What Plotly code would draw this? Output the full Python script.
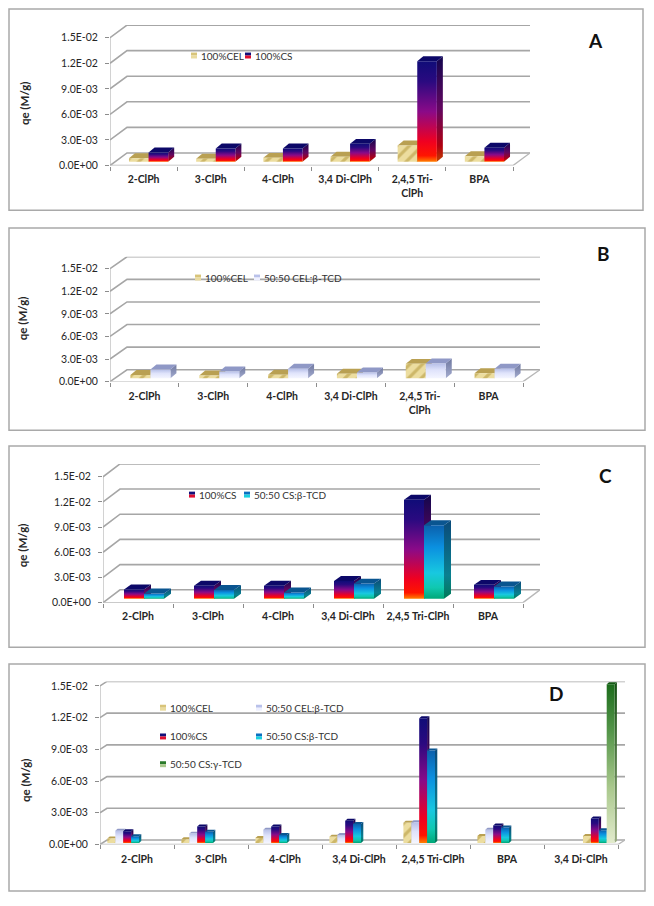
import plotly.graph_objects as go

W, H = 654, 906
FONT = "Lato"
TEXT = "#262626"

# ---------- data ----------
cats_six = ["2-ClPh", "3-ClPh", "4-ClPh", "3,4 Di-ClPh", "2,4,5 Tri-ClPh", "BPA"]
cats_a = ["2-ClPh", "3-ClPh", "4-ClPh", "3,4 Di-ClPh", "2,4,5 Tri-<br>ClPh", "BPA"]
cats_d = cats_six + ["3,4 Di-ClPh"]
y_ticks = [0, 0.003, 0.006, 0.009, 0.012, 0.015]
y_labels = ["0.0E+00", "3.0E-03", "6.0E-03", "9.0E-03", "1.2E-02", "1.5E-02"]

cel = [4.2e-4, 3.5e-4, 4.6e-4, 5.8e-4, 1.9e-3, 6.5e-4]
cel_btcd = [1.15e-3, 8.8e-4, 1.25e-3, 7.5e-4, 1.95e-3, 1.25e-3]
cs = [1.1e-3, 1.55e-3, 1.55e-3, 2.1e-3, 1.18e-2, 1.65e-3]
cs_btcd = [6.2e-4, 1.05e-3, 7.5e-4, 1.8e-3, 8.75e-3, 1.45e-3]

# panel D has a seventh category whose bars sit in later slots of the cluster
d_cel = cel + [None]
d_cel_btcd = cel_btcd + [None]
d_cs = cs + [None]
d_cs_btcd = cs_btcd + [None]
d2_cel = [None] * 6 + [6.5e-4]
d2_cs = [None] * 6 + [2.3e-3]
d2_cs_btcd = [None] * 6 + [1.2e-3]
d2_cs_gtcd = [None] * 6 + [1.5e-2]

# ---------- styles ----------
STYLES = {
    "cel": dict(pattern=True, top="#b9a052", side="#a08a45", swatch=["#d8c47a", "#eadb9e"]),
    "cb": dict(scale=[[0, "#f4f5ff"], [0.55, "#dfe3fb"], [1, "#b6bfe8"]], top="#8f98c6",
               side=[[0, "#a3abcf"], [1, "#6f789f"]], swatch=["#b9c1ea", "#eef0ff"]),
    "cs": dict(scale=[[0, "#ff7f00"], [0.06, "#ff1500"], [0.2, "#f00020"], [0.5, "#8a0a88"],
                      [0.8, "#2a0a80"], [1, "#100c78"]], top="#0c0868",
               side=[[0, "#c04000"], [0.15, "#b00010"], [0.5, "#620660"], [1, "#12064e"]],
               swatch=["#12107a", "#e01030"]),
    "sb": dict(scale=[[0, "#00a878"], [0.15, "#10c8b0"], [0.35, "#18c8e0"], [0.7, "#0b90e0"],
                      [1, "#0b60ac"]], top="#0a5590",
               side=[[0, "#007a58"], [0.3, "#0a8090"], [1, "#0a4a7a"]], swatch=["#0b70c0", "#18d0e0"]),
    "sg": dict(scale=[[0, "#e2ebcc"], [0.35, "#a9c88c"], [0.7, "#55964a"], [1, "#1c6c1c"]],
               top="#135713", side=[[0, "#9aac80"], [1, "#124e12"]], swatch=["#2a7a2a", "#a9c88c"]),
}

PANELS = [
    dict(name="A", xa="x", ya="y", cats=cats_a, left=110, right=513, y0=165, ytop=36, dx=17, dy=12.7,
         fx=5, fy=3.8, bw=19.6, bdx=6, bdy=5,
         series=[("cel", cel, 0), ("cs", cs, 1)], nslot=2, start=-19.6,
         frame=(9, 7, 643, 210), letter=(595, 39), ytitle=(24, 102), laby=179,
         legend=[("cel", "100%CEL", 191, 54), ("cs", "100%CS", 245, 54)]),
    dict(name="B", xa="x2", ya="y2", cats=cats_a, left=110, right=523, y0=383, ytop=269, dx=17, dy=12,
         fx=6, fy=3.5, bw=20, bdx=6, bdy=5,
         series=[("cel", cel, 0), ("cb", cel_btcd, 1)], nslot=2, start=-20,
         frame=(9, 228, 645, 432), letter=(603, 254), ytitle=(22, 319), laby=398,
         legend=[("cel", "100%CEL", 195, 278), ("cb", "50:50 CEL:β-TCD", 254, 278)]),
    dict(name="C", xa="x3", ya="y3", cats=cats_six, left=103, right=523, y0=606, ytop=479, dx=17, dy=13,
         fx=6, fy=4, bw=20, bdx=7, bdy=5,
         series=[("cs", cs, 0), ("sb", cs_btcd, 1)], nslot=2, start=-20,
         frame=(9, 448, 645, 651), letter=(605, 478), ytitle=(22, 548), laby=620.5,
         legend=[("cs", "100%CS", 189, 497), ("sb", "50:50 CS:β-TCD", 244, 497)]),
    dict(name="D", xa="x4", ya="y4", cats=cats_d, left=100, right=618, y0=850, ytop=690, dx=7, dy=4.5,
         fx=2, fy=1.6, bw=7.9, bdx=2.3, bdy=2,
         series=[("cel", d_cel, 0), ("cb", d_cel_btcd, 1), ("cs", d_cs, 2), ("sb", d_cs_btcd, 3),
                 ("cel", d2_cel, 4), ("cs", d2_cs, 5), ("sb", d2_cs_btcd, 6), ("sg", d2_cs_gtcd, 7)],
         nslot=8, start=-31.6,
         frame=(9, 668, 645, 897), letter=(556, 698), ytitle=(25, 785), laby=865,
         legend=[("cel", "100%CEL", 160, 712), ("cb", "50:50 CEL:β-TCD", 256, 712),
                 ("cs", "100%CS", 160, 741), ("sb", "50:50 CS:β-TCD", 256, 741),
                 ("sg", "50:50 CS:γ-TCD", 160, 769)]),
]

fig = go.Figure()
shapes, annotations = [], []


def px(x):
    return x / W


def py(y):
    return 1 - y / H


def poly(p, xs, ys, **kw):
    fig.add_trace(go.Scatter(x=xs + xs[:1], y=ys + ys[:1], xaxis=p["xa"], yaxis=p["ya"], mode="lines",
                             line=dict(width=0), fill="toself", hoverinfo="skip", showlegend=False,
                             cliponaxis=False, **kw))


def line(p, xs, ys, color, width):
    fig.add_trace(go.Scatter(x=xs, y=ys, xaxis=p["xa"], yaxis=p["ya"], mode="lines",
                             line=dict(color=color, width=width), hoverinfo="skip", showlegend=False,
                             cliponaxis=False))


layout_axes = {}
for idx, p in enumerate(PANELS):
    n = len(p["cats"])
    catw = (p["right"] - p["left"]) / n
    vscale = 0.015 / (p["y0"] - p["ytop"])
    ddx, ddy = p["dx"] / catw, p["dy"] * vscale
    xmin, xmax = -0.5, n - 0.5
    suffix = "" if idx == 0 else str(idx + 1)

    layout_axes["xaxis" + suffix] = dict(
        domain=[px(p["left"]), px(p["right"] + p["dx"])], range=[xmin, xmax + ddx], anchor="y" + suffix,
        tickmode="array", tickvals=list(range(n)), ticktext=p["cats"], ticklen=0, showgrid=False,
        zeroline=False, showline=False, ticklabelstandoff=int(round(max(p["laby"] - p["y0"] - 8, 0))),
        tickfont=dict(family=FONT, size=10.5, color=TEXT, weight="bold"), tickangle=0,
        minor=dict(tickmode="array", tickvals=[xmin + i for i in range(n + 1)], ticks="outside",
                   ticklen=4, tickcolor="#8c8c8c", tickwidth=1, showgrid=False))
    layout_axes["yaxis" + suffix] = dict(
        domain=[py(p["y0"]), py(p["ytop"] - p["dy"])], range=[0, 0.015 + ddy], anchor="x" + suffix,
        tickmode="array", tickvals=y_ticks, ticktext=y_labels, ticks="outside", ticklen=4,
        tickcolor="#8c8c8c", tickwidth=1, showgrid=False, zeroline=False, showline=False,
        ticklabelstandoff=5, tickfont=dict(family=FONT, size=10.5, color=TEXT))

    # walls and floor
    gx, gy = [], []
    for v in y_ticks:
        gx += [xmin, xmin + ddx, xmax + ddx, None]
        gy += [v, v + ddy, v + ddy, None]
    line(p, gx, gy, "#a6a6a6", 1.6)
    line(p, [xmin, xmin], [0, 0.015], "#a6a6a6", 1)
    line(p, [xmin, xmax, xmax + ddx], [0, 0, ddy], "#b8b8b8", 1.4)

    # bars, left to right so that neighbours overlap correctly
    bw = p["bw"] / catw
    start = p["start"] / catw
    fx, fy = p["fx"] / catw, p["fy"] * vscale
    bdx, bdy = p["bdx"] / catw, p["bdy"] * vscale
    for c in range(n):
        for key, values, slot in p["series"]:
            v = values[c]
            if v is None:
                continue
            st = STYLES[key]
            x1 = c + start + fx + slot * bw
            x2 = x1 + bw
            b, t = fy, fy + v
            side = dict(fillcolor=st["side"]) if isinstance(st["side"], str) else dict(
                fillgradient=dict(type="vertical", colorscale=st["side"]))
            poly(p, [x2, x2 + bdx, x2 + bdx, x2], [b, b + bdy, t + bdy, t], **side)
            poly(p, [x1, x2, x2 + bdx, x1 + bdx], [t, t, t + bdy, t + bdy], fillcolor=st["top"])
            if st.get("pattern"):
                front = dict(fillpattern=dict(shape="/", size=9, solidity=0.35, bgcolor="#ecdd9f",
                                              fgcolor="#cdb768", fillmode="replace"))
            else:
                front = dict(fillgradient=dict(type="vertical", colorscale=st["scale"]))
            poly(p, [x1, x2, x2, x1], [b, b, t, t], **front)

    # frame, letter, axis title
    x0f, y0f, x1f, y1f = p["frame"]
    shapes.append(dict(type="rect", xref="paper", yref="paper", x0=px(x0f), x1=px(x1f), y0=py(y0f), y1=py(y1f),
                       line=dict(color="#a9a9a9", width=1.5), fillcolor="rgba(0,0,0,0)", layer="below"))
    annotations.append(dict(text="<b>%s</b>" % p["name"], x=px(p["letter"][0]), y=py(p["letter"][1]),
                            xref="paper", yref="paper", showarrow=False, xanchor="center", yanchor="middle",
                            font=dict(family=FONT, size=19, color="#111111")))
    annotations.append(dict(text="<b>qe (M/g)</b>", x=px(p["ytitle"][0]), y=py(p["ytitle"][1]), textangle=-90,
                            xref="paper", yref="paper", showarrow=False, xanchor="center", yanchor="middle",
                            font=dict(family=FONT, size=11.5, color=TEXT)))
    # legend
    for key, label, lx, ly in p["legend"]:
        top_c, bot_c = STYLES[key]["swatch"]
        shapes.append(dict(type="rect", xref="paper", yref="paper", x0=px(lx), x1=px(lx + 6), y0=py(ly - 3),
                           y1=py(ly), fillcolor=top_c, line=dict(width=0)))
        shapes.append(dict(type="rect", xref="paper", yref="paper", x0=px(lx), x1=px(lx + 6), y0=py(ly),
                           y1=py(ly + 3), fillcolor=bot_c, line=dict(width=0)))
        annotations.append(dict(text=label, x=px(lx + 8), y=py(ly), xref="paper", yref="paper", showarrow=False,
                                xanchor="left", yanchor="middle",
                                font=dict(family=FONT, size=10, color="#333333")))

fig.update_layout(width=W, height=H, autosize=False, margin=dict(l=0, r=0, t=0, b=0), paper_bgcolor="white",
                  plot_bgcolor="rgba(0,0,0,0)", showlegend=False, shapes=shapes, annotations=annotations,
                  font=dict(family=FONT), **layout_axes)

fig.write_html("out.html", config={"displayModeBar": False},
               post_script="document.body.style.margin='0';document.body.style.overflow='hidden';")
